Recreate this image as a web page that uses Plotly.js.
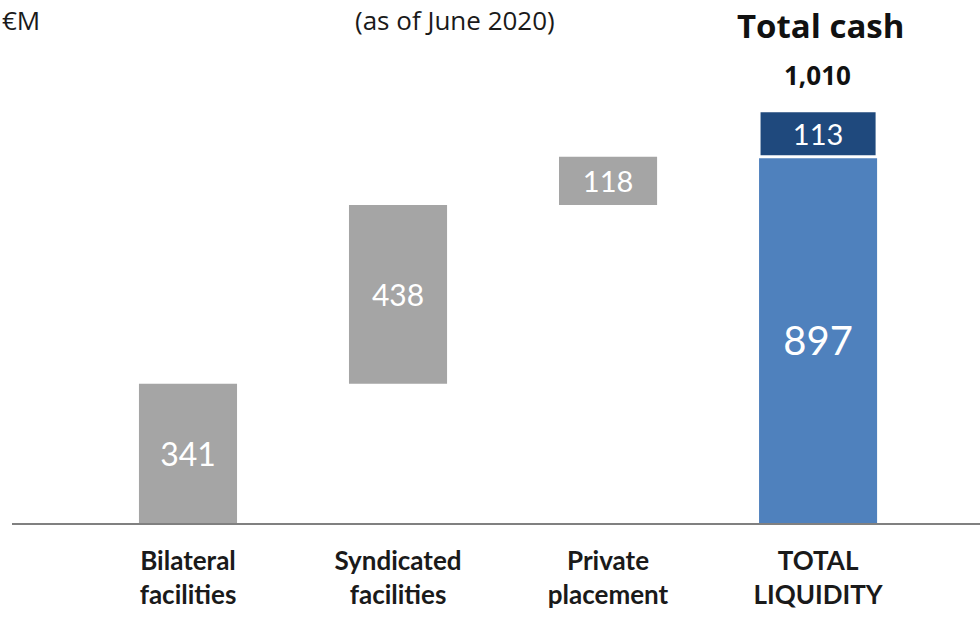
<!DOCTYPE html>
<html>
<head>
<meta charset="utf-8">
<script src="https://cdn.plot.ly/plotly-3.0.1.min.js"></script>
<style>html,body{margin:0;padding:0;background:#fff;}#chart{width:980px;height:620px;}</style>
</head>
<body>
<div id="chart"></div>
<script>
// Data
var categories = ['Bilateral<br>facilities', 'Syndicated<br>facilities', 'Private<br>placement', 'TOTAL<br>LIQUIDITY'];
var facilityValues = [341, 438, 118];
var committedTotal = 897;
var totalCash = 113;

var stepBases = [0];
for (var i = 1; i < facilityValues.length; i++) stepBases.push(stepBases[i-1] + facilityValues[i-1]);

var grey = '#A5A5A5', lightBlue = '#4F81BD', darkBlue = '#1F497D';
var numFont = 'Lato';

var traceSteps = {
  type: 'bar',
  x: categories.slice(0,3).concat([categories[3]]),
  y: facilityValues.concat([committedTotal]),
  base: stepBases.concat([0]),
  width: [0.467, 0.467, 0.467, 0.562],
  marker: {color: [grey, grey, grey, lightBlue]},
  text: facilityValues.concat([committedTotal]).map(String),
  textposition: 'inside',
  insidetextanchor: 'middle',
  textangle: 0,
  textfont: {color: '#ffffff', family: numFont, size: [32, 30, 29, 40]},
  hoverinfo: 'none',
  showlegend: false
};
var traceCash = {
  type: 'bar',
  x: [categories[3]],
  y: [totalCash],
  base: [committedTotal],
  width: [0.562],
  marker: {color: darkBlue, line: {color: '#ffffff', width: 3}},
  text: [String(totalCash)],
  textposition: 'inside',
  insidetextanchor: 'middle',
  textangle: 0,
  textfont: {color: '#ffffff', family: numFont, size: 29},
  hoverinfo: 'none',
  showlegend: false
};

var grandTotal = committedTotal + totalCash;
function fmt(n){ return n.toString().replace(/\B(?=(\d{3})+(?!\d))/g, ','); }

var layout = {
  width: 980, height: 620,
  margin: {l: 12, r: 0, t: 20, b: 97},
  paper_bgcolor: '#ffffff', plot_bgcolor: '#ffffff',
  barmode: 'overlay',
  font: {family: 'Lato, "Open Sans", sans-serif', color: '#1a1a1a'},
  xaxis: {
    type: 'category',
    categoryorder: 'array', categoryarray: categories,
    range: [-0.838, 3.771],
    showline: true, linecolor: '#808080', linewidth: 2,
    showgrid: false, zeroline: false, ticks: '',
    tickfont: {family: 'Lato, "Open Sans", sans-serif', size: 26, color: '#1a1a1a', weight: 'bold'},
    ticklabelstandoff: 14
  },
  yaxis: {
    range: [0, 1232], visible: false, showgrid: false, zeroline: false
  },
  annotations: [
    {text: '€M', xref: 'paper', yref: 'paper', x: -0.0124, y: 1.0, xanchor: 'left', yanchor: 'middle',
     showarrow: false, font: {size: 26, color: '#1a1a1a', family: '"Open Sans", sans-serif'}},
    {text: '(as of June 2020)', xref: 'paper', yref: 'paper', x: 0.4576, y: 1.0, xanchor: 'center', yanchor: 'middle',
     showarrow: false, font: {size: 26, color: '#1a1a1a', family: '"Open Sans", sans-serif'}},
    {text: '<b>Total cash</b>', xref: 'paper', yref: 'paper', x: 0.835, y: 0.990, xanchor: 'center', yanchor: 'middle',
     showarrow: false, font: {size: 33, color: '#111111', family: '"Open Sans", sans-serif'}},
    {text: '<b>' + fmt(grandTotal) + '</b>', xref: 'paper', yref: 'paper', x: 0.8326, y: 0.8907, xanchor: 'center', yanchor: 'middle',
     showarrow: false, font: {size: 26, color: '#111111', family: '"Open Sans", sans-serif'}}
  ]
};

Plotly.newPlot('chart', [traceSteps, traceCash], layout, {displayModeBar: false, staticPlot: true});
</script>
</body>
</html>
